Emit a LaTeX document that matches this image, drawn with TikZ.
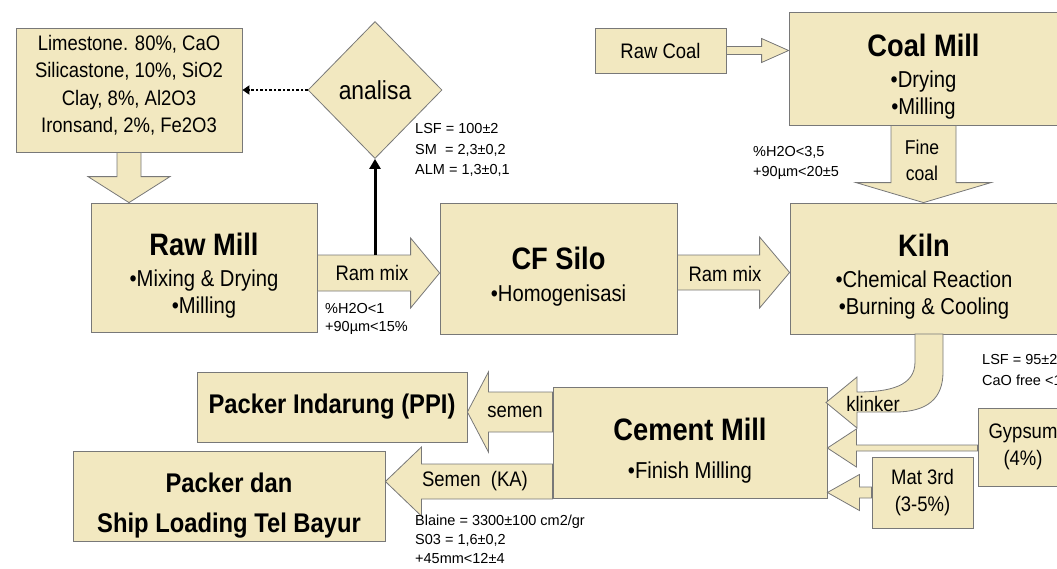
\documentclass[tikz,border=0pt]{standalone}
\usepackage{fontspec}
\setmainfont{Liberation Sans}[FakeStretch=0.88]
\newfontfamily\notefont{Liberation Sans}
\usepackage{tikz}
\usetikzlibrary{shapes.geometric,calc,arrows.meta}

\definecolor{isi}{RGB}{242,232,192}
\definecolor{garis}{RGB}{120,120,120}

\newcommand{\judul}[1]{{\fontsize{31}{31}\selectfont\bfseries\rule{0pt}{38pt}#1}}
% panah blok: ekor, ujung, setengah batang, setengah kepala, panjang kepala
\newcommand{\hblock}[5]{%
  \filldraw[panah] let \p1=(#1), \p2=(#2), \n1={\x2-(#5)} in
    (\x1,{\y2+#3}) -- (\n1,{\y2+#3}) -- (\n1,{\y2+#4}) -- (\p2)
    -- (\n1,{\y2-#4}) -- (\n1,{\y2-#3}) -- (\x1,{\y2-#3}) -- cycle;}
\newcommand{\vblock}[5]{%
  \filldraw[panah] let \p1=(#1), \p2=(#2), \n1={\y2+#5} in
    ({\x2-#3},\y1) -- ({\x2-#3},\n1) -- ({\x2-#4},\n1) -- (\p2)
    -- ({\x2+#4},\n1) -- ({\x2+#3},\n1) -- ({\x2+#3},\y1) -- cycle;}

\tikzset{
  kotak/.style={draw=garis, fill=isi, line width=0.8pt, align=center, inner sep=0pt, font=\fontsize{23}{27}\selectfont},
  kecil/.style={kotak, font=\fontsize{21}{27.5}\selectfont},
  tujuan/.style={kotak, font=\fontsize{27}{40}\selectfont\bfseries},
  panah/.style={draw=garis, fill=isi, line width=0.8pt},
  teks/.style={inner sep=0pt, align=center, font=\fontsize{21}{26}\selectfont},
  catatan/.style={inner sep=0pt, align=left, anchor=west, font=\notefont\fontsize{14.5}{20.5}\selectfont},
}

\begin{document}
\begin{tikzpicture}[x=1pt,y=-1pt]
\useasboundingbox (0,0) rectangle (1057,568);

% kotak proses
\node[kecil, minimum width=226pt, minimum height=124pt] (bahan) at (129,90) {Limestone. 80\%, CaO\\Silicastone, 10\%, SiO2\\Clay, 8\%, Al2O3\\Ironsand, 2\%, Fe2O3\rule[-12pt]{0pt}{0pt}};
\node[diamond, draw=garis, fill=isi, line width=0.8pt, minimum width=134pt, minimum height=137pt, inner sep=0pt, font=\fontsize{26}{26}\selectfont] (analisa) at (375,90) {analisa};
\node[kotak, minimum width=226pt, minimum height=129pt] (rawmill) at (204,267.5) {\judul{Raw Mill}\\[4pt]•Mixing \& Drying\\•Milling};
\node[kotak, minimum width=237pt, minimum height=131pt] (cfsilo) at (558.5,268.5) {\judul{CF Silo}\\[5pt]•Homogenisasi};
\node[kotak, minimum width=268pt, minimum height=131pt] (kiln) at (924,268.5) {\judul{Kiln}\\[4pt]•Chemical Reaction\\•Burning \& Cooling};
\node[kotak, minimum width=269pt, minimum height=113pt] (coalmill) at (923.5,68.5) {\judul{Coal Mill}\\[4pt]•Drying\\•Milling};
\node[kecil, minimum width=131pt, minimum height=45pt] (rawcoal) at (660.5,50.5) {Raw Coal};
\node[kotak, minimum width=274pt, minimum height=111pt] (cemmill) at (690,442.5) {\judul{Cement Mill}\\[11pt]•Finish Milling};
\node[tujuan, minimum width=270pt, minimum height=70pt] (ppi) at (332,407) {Packer Indarung (PPI)};
\node[tujuan, minimum width=312pt, minimum height=90pt] (shipload) at (229,496) {\rule{0pt}{38pt}Packer dan\\Ship Loading Tel Bayur};
\node[kecil, minimum width=90pt, minimum height=78pt] (gypsum) at (1023,447) {Gypsum\\(4\%)};
\node[kecil, minimum width=101pt, minimum height=71pt] (mat3rd) at (922.5,492.5) {Mat 3rd\\(3-5\%)};

% tinggi panah
\coordinate (yRamA) at (0,273);
\coordinate (yRamB) at (0,272.5);
\coordinate (ySemenA) at (0,412);
\coordinate (ySemenB) at (0,481.5);
\coordinate (yGyp) at (0,448);
\coordinate (yMat) at (0,492.5);
\coordinate (ySampel) at (0,255);

% panah blok
\vblock{bahan.south}{bahan.south |- rawmill.north}{12pt}{41pt}{26pt}
\hblock{rawmill.east |- yRamA}{cfsilo.west |- yRamA}{18pt}{35pt}{29pt}
\hblock{cfsilo.east |- yRamB}{kiln.west |- yRamB}{17.5pt}{35.5pt}{30pt}
\hblock{rawcoal.east}{coalmill.west |- rawcoal.east}{4pt}{12pt}{27pt}
\vblock{coalmill.south}{coalmill.south |- kiln.north}{32.5pt}{67.5pt}{20pt}
\hblock{cemmill.west |- ySemenA}{ppi.east |- ySemenA}{20pt}{40pt}{-21pt}
\hblock{cemmill.west |- ySemenB}{shipload.east |- ySemenB}{17.5pt}{34.5pt}{-36pt}
\hblock{gypsum.west |- yGyp}{cemmill.east |- yGyp}{3pt}{19pt}{-29pt}
\hblock{mat3rd.west |- yMat}{cemmill.east |- yMat}{5.5pt}{18pt}{-32pt}
% klinker
\filldraw[panah] (915,334) -- (915,362) .. controls (915,386) and (890,392) .. (857,392)
  -- (857,377) -- (826,402.5) -- (857,428) -- (857,412) -- (895,412)
  .. controls (928,412) and (943,398) .. (943,372) -- (943,334) -- cycle;

% analisa
\draw[line width=3pt, -{Triangle[width=11pt,length=10pt]}] (analisa.south |- ySampel) -- (analisa.south);
\draw[line width=2.5pt, dash pattern=on 2.5pt off 2pt, -{Triangle[width=9pt,length=7pt]}] (analisa.west) -- (bahan.east |- analisa.west);

% teks pada panah
\node[teks] (ramA) at (372,273) {Ram mix};
\node[teks] (ramB) at (725,274) {Ram mix};
\node[teks, font=\fontsize{20}{26}\selectfont] (fine) at (922,160) {Fine\\coal};
\node[teks] (semenA) at (515,412) {semen};
\node[teks] (semenB) at (475,481) {Semen\ \ (KA)};
\node[teks] (klinker) at (873,404) {klinker};

% catatan
\node[catatan] (cekRaw) at (415,150) {LSF = 100±2\\SM\ \ = 2,3±0,2\\ALM = 1,3±0,1};
\node[catatan, font=\notefont\fontsize{14.5}{18}\selectfont] (cekMix) at (325,319) {\%H2O<1\\+90µm<15\%};
\node[catatan] (cekCoal) at (753,163) {\%H2O<3,5\\+90µm<20±5};
\node[catatan] (cekKiln) at (982,370) {LSF = 95±2\\CaO free <1};
\node[catatan, font=\notefont\fontsize{14.5}{19}\selectfont] (cekSemen) at (415,539) {Blaine = 3300±100 cm2/gr\\S03 = 1,6±0,2\\+45mm<12±4};
\end{tikzpicture}
\end{document}
